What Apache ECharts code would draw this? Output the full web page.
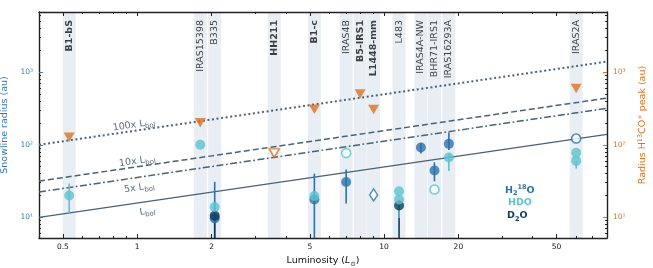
<!DOCTYPE html>
<html><head><meta charset="utf-8">
<script src="https://cdn.jsdelivr.net/npm/echarts@6/dist/echarts.min.js"></script>
<style>html,body{margin:0;padding:0;background:#fff}#c{width:653px;height:268px}</style>
</head><body><div id="c"></div>
<script>
// ---------------- data ----------------
const sources = ['B1-bS','IRAS15398','B335','HH211','B1-c','IRAS4B','B5-IRS1','L1448-mm','L483','IRAS4A-NW','BHR71-IRS1','IRAS16293A','IRAS2A'];
const luminosity = [0.53,1.80,2.06,3.59,5.22,7.02,8.0,9.07,11.5,14.1,16.0,18.3,60];
const boldSources = ['B1-bS','HH211','B1-c','B5-IRS1','L1448-mm'];

// H2 18O snowline radii (0 = error bar runs below the plot)
const h218oSource = ['B335','B1-c','IRAS4B','IRAS4A-NW','BHR71-IRS1','IRAS16293A'];
const h218oRadius = [9.7,17.6,30.8,92,44.3,103];
const h218oLow    = [0,0,15.5,76,31.4,85];
const h218oHigh   = [30.8,40,45.7,106,57.3,148];
const h218oOpenSource = ['IRAS2A'];
const h218oOpenRadius = [122];
const h218oDiamondSource = ['L1448-mm'];
const h218oDiamondRadius = [20.4];

// HDO snowline radii
const hdoSource = ['B1-bS','IRAS15398','B335','B1-c','L483','L483','IRAS16293A','IRAS2A','IRAS2A'];
const hdoRadius = [20.0,100,13.9,19.7,22.9,17.6,66.9,77.5,60];
const hdoLow    = [11.5,null,null,null,null,9.8,43.4,null,47];
const hdoHigh   = [29.2,null,null,null,null,null,75,null,null];
const hdoOpenSource = ['IRAS4B','BHR71-IRS1'];
const hdoOpenRadius = [76.8,24.2];

// D2O snowline radii
const d2oSource = ['B335','L483'];
const d2oRadius = [10.5,14.6];
const d2oLow    = [0,0];
const d2oHigh   = [null,null];

// H13CO+ peak radii
const hcoSource = ['B1-bS','IRAS15398','B1-c','B5-IRS1','L1448-mm','IRAS2A'];
const hcoRadius = [127,202,309,502,307,598];
const hcoOpenSource = ['HH211'];
const hcoOpenRadius = [76.8];

// model lines (R proportional to sqrt(L)), end points
const modelL = [0.4, 80];
const lineLbol = [10, 139];
const line5x   = [22.4, 318];
const line10x  = [31.6, 440];
const line100x = [100, 1400];

// ticks
const xMajorTicks = [0.5,1,2,5,10,20,50];
const xMinorTicks = [0.6,0.7,0.8,0.9,3,4,6,7,8,9,30,40,60,70];
const yMajorTicks = [10,100,1000];
const yMinorTicks = [6,7,8,9,20,30,40,50,60,70,80,90,200,300,400,500,600,700,800,900,2000,3000,4000,5000,6000];

// ---------------- styles ----------------
const X_MIN = 0.4, X_MAX = 80, Y_MIN = 5.2, Y_MAX = 6750;
const C_BLUE = '#2e71a7', C_CYAN = '#5cc3cf', C_NAVY = '#0d3a5c', C_ORANGE = '#dc7221';
const C_AXBLUE = '#3a7ab0', C_LINE = '#4b6275', C_BAND = '#e8eef4';
const FONT = 'DejaVu Sans';
const BAND_HW = 0.0263;
const lg = Math.log10;
const LX_MIN = lg(X_MIN), LX_MAX = lg(X_MAX), LY_MIN = lg(Y_MIN), LY_MAX = lg(Y_MAX);
const lumOf = s => luminosity[sources.indexOf(s)];
const SUP = {'1':'¹','2':'²','3':'³'};

// line label placements (data coords)
const lineLabels = [
  {txt:'100x L', L:0.97, R:187},
  {txt:'10x L',  L:1.0,  R:59.5},
  {txt:'5x L',   L:1.02, R:25.6},
  {txt:'L',      L:1.1,  R:12.1}
];

function pts(src, vals){ return src.map((s,i)=>[lg(lumOf(s)), lg(vals[i])]); }
function errs(src, vals, lo, hi){
  const out=[];
  src.forEach((s,i)=>{
    if ((lo[i]===null||lo[i]===undefined) && (hi[i]===null||hi[i]===undefined)) return;
    let a = (lo[i]===null||lo[i]===undefined) ? vals[i] : lo[i];
    let b = (hi[i]===null||hi[i]===undefined) ? vals[i] : hi[i];
    a = Math.max(a, Y_MIN); b = Math.min(b, Y_MAX);
    out.push([lg(lumOf(s)), lg(a), lg(b)]);
  });
  return out;
}
function errSeries(data, color, z){
  return {type:'custom', xAxisIndex:0, yAxisIndex:0, z:z, silent:true, data:data,
    renderItem:function(params, api){
      const p1 = api.coord([api.value(0), api.value(1)]);
      const p2 = api.coord([api.value(0), api.value(2)]);
      return {type:'line', shape:{x1:p1[0],y1:p1[1],x2:p2[0],y2:p2[1]}, style:{stroke:color, lineWidth:1.6}};
    }};
}
function lineSeries(vals, type, width){
  return {type:'line', xAxisIndex:0, yAxisIndex:0, z:3, symbol:'none', silent:true,
    data: modelL.map((l,i)=>[lg(l), lg(vals[i])]),
    lineStyle:{color:C_LINE, width:width, type:type, cap:'butt'}};
}
function xAxisDef(pos, ticks, len, labels){
  return {type:'value', position:pos, min:LX_MIN, max:LX_MAX, gridIndex:0,
    axisLine:{show:true, onZero:false, lineStyle:{color:'#222', width:1.4}},
    splitLine:{show:false},
    axisTick:{show:true, inside:true, length:len, customValues:ticks.map(lg), lineStyle:{color:'#222', width:1}},
    axisLabel: labels ? {show:true, customValues:ticks.map(lg), margin:5, fontSize:7.5, fontFamily:FONT, color:'#111',
        formatter:v=>String(+Math.pow(10,v).toPrecision(2))} : {show:false}};
}
function yAxisDef(pos, ticks, len, color, labels){
  return {type:'value', position:pos, min:LY_MIN, max:LY_MAX, gridIndex:0,
    axisLine:{show:true, onZero:false, lineStyle:{color:'#222', width:1.4}},
    splitLine:{show:false},
    axisTick:{show:true, inside:true, length:len, customValues:ticks.map(lg), lineStyle:{color:color, width:1}},
    axisLabel: labels ? {show:true, customValues:ticks.map(lg), margin:6, fontSize:7.5, fontFamily:FONT, color:color,
        formatter:v=>'10'+SUP[String(Math.round(v))]} : {show:false}};
}

const chart = echarts.init(document.getElementById('c'), null, {renderer:'canvas'});

const xAxes = [
  Object.assign(xAxisDef('bottom', xMajorTicks, 4, true), {
    name:'{t|Luminosity (}{i|L}{s|⊙}{t|)}', nameLocation:'middle', nameGap:14,
    nameTextStyle:{fontFamily:FONT, color:'#111', rich:{
      t:{fontSize:9.5, fontFamily:FONT, color:'#111', lineHeight:13},
      i:{fontSize:9.5, fontFamily:FONT, fontStyle:'italic', color:'#111', lineHeight:13},
      s:{fontSize:6.5, fontFamily:FONT, color:'#111', verticalAlign:'bottom', lineHeight:7}}}}),
  xAxisDef('bottom', xMinorTicks, 2, false),
  xAxisDef('top', xMajorTicks, 4, false),
  xAxisDef('top', xMinorTicks, 2, false)
];
xAxes[1].axisLine.show=false; xAxes[3].axisLine.show=false;

const yAxes = [
  Object.assign(yAxisDef('left', yMajorTicks, 4, C_AXBLUE, true), {
    name:'Snowline radius (au)', nameLocation:'middle', nameGap:24, nameRotate:90,
    nameTextStyle:{fontFamily:FONT, fontSize:9.5, color:C_AXBLUE}}),
  yAxisDef('left', yMinorTicks, 2, '#222', false),
  Object.assign(yAxisDef('right', yMajorTicks, 4, C_ORANGE, true), {
    name:'{t|Radius H}{p|13}{t|CO}{p|+}{t| peak (au)}', nameLocation:'middle', nameGap:26, nameRotate:90,
    nameTextStyle:{fontFamily:FONT, color:C_ORANGE, rich:{
      t:{fontSize:9.5, fontFamily:FONT, color:C_ORANGE, lineHeight:13},
      p:{fontSize:6.5, fontFamily:FONT, color:C_ORANGE, verticalAlign:'top', lineHeight:7}}}}),
  yAxisDef('right', yMinorTicks, 2, '#222', false)
];
yAxes[1].axisLine.show=false; yAxes[3].axisLine.show=false;

const labelY = LY_MAX - 8/72.6;

const series = [
  // source bands + names
  {type:'scatter', xAxisIndex:0, yAxisIndex:0, z:1, silent:true, symbolSize:1,
   itemStyle:{color:'rgba(0,0,0,0)'},
   data: sources.map((s,i)=>({value:[lg(luminosity[i]), labelY], name:s,
      label:{fontWeight: boldSources.includes(s)?'bold':'normal'}})),
   label:{show:true, position:'inside', rotate:90, align:'right', verticalAlign:'middle',
      formatter:p=>p.name, fontSize:9.5, fontFamily:FONT, color:'#111'},
   markArea:{silent:true, itemStyle:{color:C_BAND}, z:0,
      data: luminosity.map(l=>[{xAxis:lg(l)-BAND_HW},{xAxis:lg(l)+BAND_HW}])}
  },
  lineSeries(line100x, [2,2.6], 2),
  lineSeries(line10x, [6,3], 1.5),
  lineSeries(line5x, [7,2.5,1.8,2.5], 1.5),
  lineSeries(lineLbol, 'solid', 1.3),
  // line labels
  {type:'scatter', xAxisIndex:0, yAxisIndex:0, z:4, silent:true, symbolSize:1,
   itemStyle:{color:'rgba(0,0,0,0)'},
   data: lineLabels.map(o=>({value:[lg(o.L), lg(o.R)], name:o.txt})),
   label:{show:true, position:'inside', rotate:8, align:'center', verticalAlign:'middle',
     formatter:p=>'{n|'+p.name+'}{b|bol}',
     rich:{n:{fontSize:9.5, fontFamily:FONT, color:'#2c4760', lineHeight:13},
           b:{fontSize:7, fontFamily:FONT, color:'#2c4760', verticalAlign:'bottom', lineHeight:8}}}
  },
  // error bars
  errSeries(errs(h218oSource, h218oRadius, h218oLow, h218oHigh), C_BLUE, 5),
  errSeries(errs(d2oSource, d2oRadius, d2oLow, d2oHigh), C_NAVY, 5),
  errSeries(errs(hdoSource, hdoRadius, hdoLow, hdoHigh), C_CYAN, 5),
  // markers
  {name:'H₂¹⁸O', type:'scatter', xAxisIndex:0, yAxisIndex:0, z:6, silent:true, symbol:'circle', symbolSize:10,
   itemStyle:{color:C_BLUE}, data: pts(h218oSource, h218oRadius)},
  {name:'D₂O', type:'scatter', xAxisIndex:0, yAxisIndex:0, z:7, silent:true, symbol:'circle', symbolSize:10,
   itemStyle:{color:C_NAVY}, data: pts(d2oSource, d2oRadius)},
  {name:'HDO', type:'scatter', xAxisIndex:0, yAxisIndex:0, z:8, silent:true, symbol:'circle', symbolSize:10,
   itemStyle:{color:C_CYAN}, data: pts(hdoSource, hdoRadius)},
  {type:'scatter', xAxisIndex:0, yAxisIndex:0, z:8, silent:true, symbol:'circle', symbolSize:9,
   itemStyle:{color:'#fff', borderColor:C_BLUE, borderWidth:1.6}, data: pts(h218oOpenSource, h218oOpenRadius)},
  {type:'scatter', xAxisIndex:0, yAxisIndex:0, z:8, silent:true, symbol:'diamond', symbolSize:[8,12],
   itemStyle:{color:'#fff', borderColor:C_BLUE, borderWidth:1.5}, data: pts(h218oDiamondSource, h218oDiamondRadius)},
  {type:'scatter', xAxisIndex:0, yAxisIndex:0, z:8, silent:true, symbol:'circle', symbolSize:9,
   itemStyle:{color:'#fff', borderColor:C_CYAN, borderWidth:1.6}, data: pts(hdoOpenSource, hdoOpenRadius)},
  {type:'scatter', xAxisIndex:0, yAxisIndex:0, z:8, silent:true, symbol:'triangle', symbolRotate:180, symbolSize:[11,9.5],
   itemStyle:{color:C_ORANGE}, data: pts(hcoSource, hcoRadius)},
  {type:'scatter', xAxisIndex:0, yAxisIndex:0, z:8, silent:true, symbol:'triangle', symbolRotate:180, symbolSize:[10,8.5],
   itemStyle:{color:'#fff', borderColor:C_ORANGE, borderWidth:1.5}, data: pts(hcoOpenSource, hcoOpenRadius)}
];

const legRich = (c)=>({
  t:{fontSize:9.5, fontWeight:'bold', fontFamily:FONT, fill:c, lineHeight:13},
  d:{fontSize:6.5, fontWeight:'bold', fontFamily:FONT, fill:c, verticalAlign:'bottom', lineHeight:7},
  u:{fontSize:6.5, fontWeight:'bold', fontFamily:FONT, fill:c, verticalAlign:'top', lineHeight:7}
});

chart.setOption({
  animation:false,
  backgroundColor:'#fff',
  textStyle:{fontFamily:FONT},
  grid:{left:39, right:46, top:12, bottom:30, containLabel:false, outerBoundsMode:'none'},
  xAxis:xAxes,
  yAxis:yAxes,
  series:series,
  graphic:[
    {type:'text', left:505, top:184, z:100, style:{text:'{t|H}{d|2}{u|18}{t|O}', rich:legRich(C_BLUE), fill:C_BLUE}},
    {type:'text', left:508, top:198, z:100, style:{text:'{t|HDO}', rich:legRich(C_CYAN), fill:C_CYAN}},
    {type:'text', left:507, top:211, z:100, style:{text:'{t|D}{d|2}{t|O}', rich:legRich(C_NAVY), fill:C_NAVY}}
  ]
});
</script>
</body></html>
